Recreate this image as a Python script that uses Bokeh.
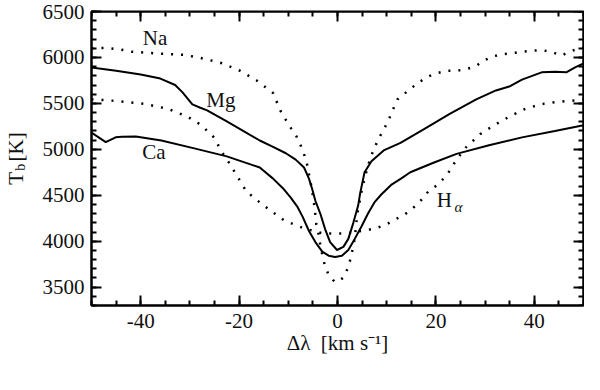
import numpy as np
from bokeh.plotting import figure
from bokeh.models import Range1d, LinearAxis, SingleIntervalTicker, FixedTicker, Label, CustomJSTickFormatter
from bokeh.embed import file_html
from bokeh.resources import INLINE

# ---------------- data ----------------
na_x = [-50, -47, -44, -41.8, -37.1, -31.1, -27.8, -23.8, -19.8, -16.5, -13.1, -11.6, -10.5,
        -9.5, -8.3, -7.5, -6.7, -6.1, -5.7, -5.3, -5.0, -4.7, -4.5, -4.3, -3.8, -3.5, -3.1,
        -2.6, -1.9, -0.6, 0.3, 1.2, 2.1, 2.7, 3.1, 3.5, 3.7, 3.9, 4.2, 4.6, 5.0, 5.5, 6.0,
        6.6, 7.3, 8.2, 9.2, 10.3, 10.9, 12.2, 14.2, 16.2, 18.2, 20.2, 22.2, 24.2, 26.2, 28.2,
        29.5, 31.5, 33.5, 36.2, 38.9, 41.5, 43.5, 45.5, 47.5, 50]
na_t = [6100, 6105, 6085, 6062, 6045, 6028, 5994, 5942, 5855, 5752, 5613, 5420, 5320,
        5233, 5137, 5044, 4930, 4819, 4699, 4595, 4491, 4388, 4284, 4181, 4067, 3956, 3852,
        3741, 3645, 3559, 3565, 3604, 3707, 3818, 3922, 4025, 4129, 4239, 4353, 4456, 4577, 4681, 4785,
        4888, 4992, 5096, 5199, 5303, 5389, 5544, 5631, 5717, 5787, 5828, 5855, 5855, 5873, 5907,
        5959, 6011, 6035, 6052, 6070, 6080, 6060, 6020, 6070, 6110]

mg_x = [-50, -45, -40, -36, -33, -31.5, -29.5, -28, -26.5, -22.5, -15.8, -13.1, -10.5, -8.5,
        -6.8, -5.8, -5.1, -4.5, -3.5, -2.5, -1.5, -0.1, 1.2, 2.2, 3.2, 4.2, 4.6, 5.5, 6.9, 9.5,
        12.8, 17.5, 22.9, 28.2, 32.2, 34.9, 37.5, 41.5, 44.2, 46.5, 48.2, 50]
mg_t = [5890, 5855, 5815, 5770, 5700, 5620, 5490, 5455, 5424, 5303, 5096, 5026, 4957, 4888,
        4802, 4681, 4560, 4440, 4301, 4129, 3990, 3904, 3938, 4025, 4197, 4388, 4520, 4750, 4871, 4992,
        5070, 5217, 5389, 5544, 5641, 5683, 5759, 5838, 5845, 5838, 5890, 5935]

ca_x = [-50, -47.1, -45.1, -43.8, -41, -35.8, -29.1, -22.5, -15.8, -13.1, -11.1, -9.5, -8.1,
        -7.1, -5.8, -4.5, -3.1, -1.8, -0.5, 0.9, 2.2, 3.5, 4.9, 6.2, 7.5, 8.9, 10.9, 12.9, 14.8,
        19.5, 24.2, 30.8, 37.5, 44.2, 50]
ca_t = [5182, 5078, 5130, 5137, 5140, 5096, 5010, 4923, 4802, 4681, 4577, 4474, 4370,
        4267, 4111, 3990, 3887, 3842, 3828, 3842, 3904, 4025, 4163, 4301, 4422, 4508, 4612, 4681, 4750,
        4854, 4950, 5044, 5130, 5199, 5261]

ha_x = [-50, -45.1, -39.1, -34.5, -30.5, -27.8, -25.1, -23.6, -22, -20.3, -18.5, -15.8, -13.8,
        -10.8, -8.8, -6.8, -4.8, -2.8, -0.6, 1.5, 3.7, 5.7, 7.7, 9.9, 11.5, 13.5, 15.2, 16.9, 18.2,
        20.2, 22.2, 24.2, 26.2, 29, 31.5, 34.9, 38.2, 41.5, 44.8, 47.5, 50]
ha_t = [5544, 5527, 5493, 5441, 5355, 5268, 5130, 4980, 4850, 4700, 4540, 4422, 4342,
        4225, 4181, 4139, 4111, 4083, 4083, 4083, 4101, 4118, 4139, 4181, 4232, 4284, 4353, 4440, 4526,
        4610, 4715, 4888, 5026, 5165, 5251, 5355, 5441, 5493, 5517, 5527, 5544]

x_min, x_max = -50, 50
t_min, t_max = 3300, 6500
x_ticks_interval = 20
y_ticks_interval = 500
NB = "\u00a0"
x_label = "Δλ" + NB * 2 + "[km" + NB + "s⁻¹]"
y_label_main = "T" + NB * 2 + "[K]"
y_label_sub = "b" + NB * 5

FONT = "Liberation Serif"
W, H = 584, 367

p = figure(width=W, height=H, output_backend="svg", toolbar_location=None,
           x_range=Range1d(x_min, x_max), y_range=Range1d(t_min, t_max),
           min_border_left=87, min_border_right=1, min_border_top=11, min_border_bottom=62)
p.grid.visible = False
p.outline_line_color = "black"
p.outline_line_width = 2
p.background_fill_color = "white"
p.border_fill_color = "white"

plain = CustomJSTickFormatter(code="return tick.toFixed(0)")
blank = CustomJSTickFormatter(code="return ''")


def style_axis(ax, labels=True):
    ax.axis_line_width = 2
    ax.axis_line_color = "black"
    ax.major_tick_in = 10
    ax.major_tick_out = 0
    ax.minor_tick_in = 5
    ax.minor_tick_out = 0
    ax.major_tick_line_width = 2
    ax.minor_tick_line_width = 2
    ax.major_tick_line_color = "black"
    ax.minor_tick_line_color = "black"
    ax.major_label_text_font = FONT
    ax.major_label_text_font_size = "21px"
    ax.major_label_text_color = "#111111"
    ax.axis_label_text_font = FONT
    ax.axis_label_text_font_style = "normal"
    ax.axis_label_text_color = "#111111"
    ax.axis_label_text_font_size = "21px"
    if labels:
        ax.formatter = plain
    else:
        ax.formatter = blank
        ax.major_label_standoff = 0
        ax.major_label_text_font_size = "0px"


xb = p.below[0]
xb.ticker = SingleIntervalTicker(interval=x_ticks_interval, num_minor_ticks=4)
style_axis(xb)
xb.major_label_standoff = 8
xb.axis_label = x_label
xb.axis_label_standoff = 0

yl = p.left[0]
yl.ticker = SingleIntervalTicker(interval=y_ticks_interval, num_minor_ticks=5)
style_axis(yl)
yl.major_label_standoff = 7
yl.axis_label = y_label_main
yl.axis_label_standoff = 12

# outer left axis carrying only the subscript of T_b
ysub = LinearAxis(ticker=FixedTicker(ticks=[]))
style_axis(ysub, labels=False)
ysub.axis_line_color = None
ysub.major_tick_line_color = None
ysub.minor_tick_line_color = None
ysub.axis_label = y_label_sub
ysub.axis_label_text_font_size = "14px"
ysub.axis_label_standoff = -27
p.add_layout(ysub, "left")

# mirrored tick marks on the top and right edges of the frame
xt = LinearAxis(ticker=SingleIntervalTicker(interval=x_ticks_interval, num_minor_ticks=4),
                fixed_location=t_max)
style_axis(xt, labels=False)
p.add_layout(xt, "above")

yr = LinearAxis(ticker=SingleIntervalTicker(interval=y_ticks_interval, num_minor_ticks=5),
                fixed_location=x_max)
style_axis(yr, labels=False)
p.add_layout(yr, "right")

# curves
p.line(na_x, na_t, line_color="black", line_width=2.5, line_dash="2 8")
p.line(ha_x, ha_t, line_color="black", line_width=2.5, line_dash="2 8")
p.line(mg_x, mg_t, line_color="black", line_width=2)
p.line(ca_x, ca_t, line_color="black", line_width=2)


def lab(x, y, text, size="21px", style="normal", align="center"):
    p.add_layout(Label(x=x, y=y, text=text, text_font=FONT, text_font_size=size,
                       text_font_style=style, text_color="#111111",
                       text_align=align, text_baseline="middle"))


# curve labels
lab(-37.1, 6215, "Na")
lab(-23.7, 5541, "Mg")
lab(-37.3, 4971, "Ca")
lab(21.7, 4443, "H")
lab(24.6, 4370, "α", size="15px", style="italic")

open("out.html", "w").write(file_html(p, INLINE))
